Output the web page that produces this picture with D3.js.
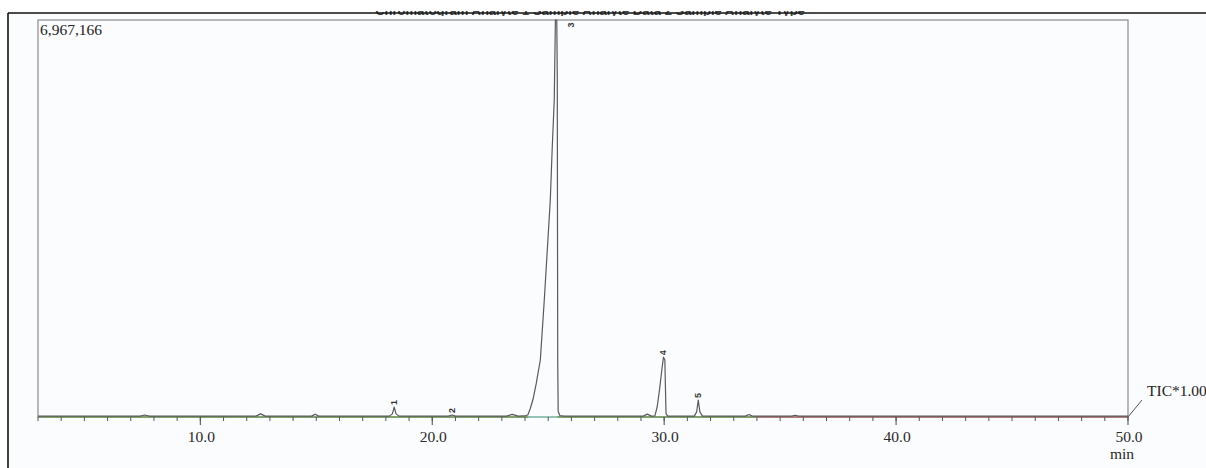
<!DOCTYPE html>
<html>
<head>
<meta charset="utf-8">
<script src="https://cdn.jsdelivr.net/npm/d3@7"></script>
<style>
  html, body { margin: 0; padding: 0; background: #ffffff; }
  svg { display: block; }
</style>
</head>
<body>
<svg id="chart" width="1206" height="468"></svg>
<script>
// ---- data ----
const yMaxValue = 6967166;
const xDomain = [3.0, 50.0];
const majorTicks = [10, 20, 30, 40, 50];
const majorTickLabels = ["10.0", "20.0", "30.0", "40.0", "50.0"];
const minorTicks = d3.range(3, 51, 1);

const times = [3.0, 5.0, 7.4, 7.6, 7.8, 10.0, 12.4, 12.6, 12.8, 14.8, 14.95, 15.1,
  18.15, 18.28, 18.36, 18.44, 18.57, 20.7, 20.86, 21.0, 23.2, 23.45, 23.7,
  23.97, 24.12, 24.22, 24.35, 24.48, 24.66, 24.83, 24.96, 25.09, 25.17, 25.26,
  25.31, 25.37, 25.39, 25.41, 25.43, 25.5, 25.7,
  29.1, 29.27, 29.45, 29.6, 29.7, 29.8, 29.9, 29.97, 30.03, 30.05, 30.08, 30.15,
  31.3, 31.4, 31.47, 31.54, 31.65, 33.5, 33.66, 33.8, 35.5, 35.65, 35.8, 50.0];
const intensities = [15000, 15000, 15000, 35000, 15000, 15000, 15000, 55000, 15000, 15000, 50000, 15000,
  15000, 55000, 175000, 55000, 15000, 15000, 35000, 15000, 15000, 45000, 15000,
  18000, 35000, 140000, 320000, 580000, 1000000, 2050000, 2930000, 3810000, 4690000, 5560000,
  6967166, 6967166, 6000000, 1000000, 100000, 25000, 15000,
  15000, 50000, 15000, 20000, 180000, 480000, 830000, 1050000, 1000000, 600000, 60000, 15000,
  15000, 90000, 298000, 90000, 15000, 15000, 45000, 15000, 15000, 30000, 15000, 15000];

const peakNumbers = ["1", "2", "3", "4", "5"];
const peakLabelTimes = [18.36, 20.86, 25.98, 29.97, 31.47];
const peakLabelHeights = [175000, 35000, 6800000, 1050000, 298000];

// ---- layout ----
const svg = d3.select("#chart");
const plot = { left: 38, right: 1128, top: 20, bottom: 417 };
const x = d3.scaleLinear().domain(xDomain).range([plot.left, plot.right]);
const y = d3.scaleLinear().domain([0, yMaxValue]).range([plot.bottom, plot.top]);

const serif = "'Liberation Serif', 'DejaVu Serif', serif";

// page tint inside the frame
svg.append("rect").attr("x", 8).attr("y", 13).attr("width", 1198).attr("height", 455)
  .attr("fill", "#fbfcfd");

// clipped title strip (scan cut-off)
svg.append("clipPath").attr("id", "titleClip")
  .append("rect").attr("x", 0).attr("y", 11).attr("width", 1206).attr("height", 5);
svg.append("text")
  .attr("clip-path", "url(#titleClip)")
  .attr("x", 590).attr("y", 15)
  .attr("text-anchor", "middle")
  .attr("font-family", "'Liberation Sans', sans-serif")
  .attr("font-size", 13).attr("font-weight", "bold")
  .attr("fill", "#444")
  .text("Chromatogram Analyte 1 Sample Analyte Data 2 Sample Analyte Type");

// outer frame (black, top + left)
svg.append("line").attr("x1", 8).attr("x2", 1206).attr("y1", 13).attr("y2", 13)
  .attr("stroke", "#111").attr("stroke-width", 1.6);
svg.append("line").attr("x1", 8).attr("x2", 8).attr("y1", 13).attr("y2", 468)
  .attr("stroke", "#111").attr("stroke-width", 1.6);

// plot box
svg.append("rect")
  .attr("x", plot.left).attr("y", plot.top)
  .attr("width", plot.right - plot.left).attr("height", plot.bottom - plot.top)
  .attr("fill", "none").attr("stroke", "#8a8a8a").attr("stroke-width", 1.2);

// y max label
svg.append("text")
  .attr("x", plot.left + 2).attr("y", 35)
  .attr("font-family", serif).attr("font-size", 15.5)
  .attr("fill", "#222")
  .text(d3.format(",")(yMaxValue));

// coloured baseline segments
const baseSegs = [
  { a: 3.0, b: 34.0, c: "#6f9a55" },
  { a: 34.0, b: 50.0, c: "#b06a66" },
  { a: 24.14, b: 25.40, c: "#9fd8dc" }
];
svg.selectAll("line.base").data(baseSegs).join("line")
  .attr("class", "base")
  .attr("x1", d => x(d.a)).attr("x2", d => x(d.b))
  .attr("y1", y(0)).attr("y2", y(0))
  .attr("stroke", d => d.c).attr("stroke-width", 1.3);

// ticks
const g = svg.append("g");
g.selectAll("line.minor").data(minorTicks).join("line")
  .attr("class", "minor")
  .attr("x1", d => x(d)).attr("x2", d => x(d))
  .attr("y1", y(0)).attr("y2", y(0) + 4)
  .attr("stroke", "#555").attr("stroke-width", 1);
g.selectAll("line.major").data(majorTicks).join("line")
  .attr("class", "major")
  .attr("x1", d => x(d)).attr("x2", d => x(d))
  .attr("y1", y(0)).attr("y2", y(0) + 8)
  .attr("stroke", "#555").attr("stroke-width", 1.1);
g.selectAll("text.tl").data(majorTicks).join("text")
  .attr("class", "tl")
  .attr("x", d => x(d) + 1).attr("y", 442)
  .attr("text-anchor", "middle")
  .attr("font-family", serif).attr("font-size", 15.5)
  .attr("fill", "#2a2a2a")
  .text((d, i) => majorTickLabels[i]);
svg.append("text")
  .attr("x", x(50) - 6).attr("y", 459)
  .attr("text-anchor", "middle")
  .attr("font-family", serif).attr("font-size", 15.5)
  .attr("fill", "#2a2a2a")
  .text("min");

// chromatogram trace
const pts = times.map((t, i) => [t, intensities[i]]);
const line = d3.line().x(d => x(d[0])).y(d => Math.max(y(d[1]), plot.top)).curve(d3.curveLinear);
svg.append("path")
  .datum(pts)
  .attr("d", line)
  .attr("fill", "none")
  .attr("stroke", "#5a5a5a")
  .attr("stroke-width", 1.2)
  .attr("stroke-linejoin", "round");

// peak labels (rotated)
svg.selectAll("text.pk").data(peakNumbers).join("text")
  .attr("class", "pk")
  .attr("transform", (d, i) => {
    const px = x(peakLabelTimes[i]) + 3;
    const py = y(peakLabelHeights[i]) - 2;
    return `translate(${px},${py}) rotate(-90)`;
  })
  .attr("font-family", "'Liberation Sans', sans-serif")
  .attr("font-size", 9).attr("font-weight", "bold")
  .attr("fill", "#333")
  .text(d => d);

// TIC label with leader
svg.append("line")
  .attr("x1", x(50)).attr("y1", y(0))
  .attr("x2", x(50) + 14).attr("y2", y(0) - 17)
  .attr("stroke", "#555").attr("stroke-width", 1);
svg.append("text")
  .attr("x", 1147).attr("y", 396)
  .attr("font-family", serif).attr("font-size", 15.5)
  .attr("fill", "#222")
  .text("TIC*1.00");
</script>
</body>
</html>
